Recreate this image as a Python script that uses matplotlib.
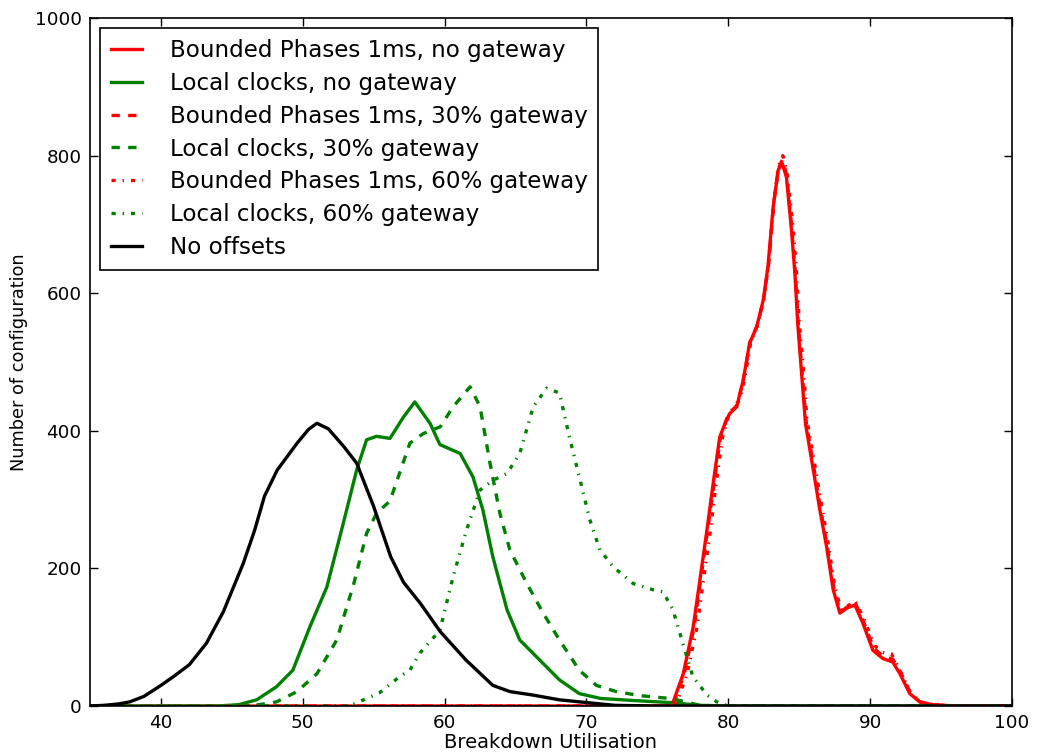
"""Breakdown utilisation distributions for the offset strategies."""
import matplotlib
matplotlib.use('Agg')
import matplotlib.pyplot as plt


# ---- data ----
# No offsets
x_none = [35, 36, 37, 37.8, 38.8, 40, 40.9, 42, 43.2, 44.4, 45.8, 46.6, 47.3,
          48.2, 49.6, 50.4, 51, 51.8, 52.9, 53.8, 55, 56.2, 57.1, 58.3, 59.7,
          61.5, 63.4, 64.6, 66.2, 68.1, 70, 72, 75, 100]
y_none = [0, 1, 3, 6, 14, 30, 43, 60, 91, 137, 207, 255, 305,
          343, 382, 402, 411, 403, 377, 353, 290, 217, 180, 149, 108,
          67, 30, 21, 16, 9, 5, 1, 0, 0]

# Local clocks, no gateway
x_lc0 = [35, 44, 45.5, 46.75, 48.15, 49.3, 50.5, 51.7, 52.85, 53.8, 54.5,
         55.2, 56.15, 57.1, 57.9, 58.97, 59.67, 61.1, 62.0, 62.7, 63.4, 64.4,
         65.3, 66.7, 68.1, 69.5, 71, 73.3, 75.9, 78, 80, 100]
y_lc0 = [0, 0, 2, 9, 28, 52, 115, 173, 265, 343, 387,
         392, 389, 420, 442, 411, 380, 367, 333, 285, 217, 140,
         96, 67, 38, 18, 11, 8, 5, 1, 0, 0]

# Local clocks, 30% gateway
x_lc30 = [35, 46.3, 48.15, 49.6, 51.0, 52.4, 53.6, 54.5, 55.2, 56.15, 56.85,
          57.55, 58.5, 59.7, 60.6, 61.8, 62.5, 63.2, 63.9, 64.6, 65.8, 66.95,
          68.1, 69.5, 70.7, 72.1, 73.8, 75.9, 77, 78, 80, 100]
y_lc30 = [0, 0, 6, 21, 47, 96, 178, 251, 280, 298, 340,
          382, 396, 406, 435, 464, 435, 353, 280, 227, 178, 135,
          96, 52, 30, 21, 15, 11, 6, 1, 0, 0]

# Local clocks, 60% gateway
x_lc60 = [35, 53.3, 55.4, 56.85, 57.55, 58.26, 59.67, 60.6, 61.55, 62.5, 63.4,
          64.4, 65.3, 66.25, 67.2, 68.1, 68.8, 69.5, 70.25, 70.95, 71.9, 73.3,
          74.7, 75.4, 76.1, 76.8, 77.5, 78.5, 79.2, 80, 100]
y_lc60 = [0, 0, 19, 43, 52, 77, 110, 188, 256, 314, 328,
          338, 367, 435, 462, 455, 391, 333, 270, 227, 202, 178,
          169, 166, 140, 91, 43, 16, 6, 0, 0]

# Bounded phases 1ms, no gateway
x_bp0 = [35, 75.5, 76.12, 76.83, 77.53, 78.0, 78.5, 78.94, 79.4, 79.88, 80.1,
         80.6, 81.06, 81.5, 82.0, 82.47, 82.8, 83.17, 83.52, 83.8, 84.1, 84.46,
         84.7, 84.9, 85.17, 85.45, 86.0, 86.46, 86.93, 87.4, 87.87, 88.34,
         88.93, 89.5, 90.2, 90.9, 91.6, 92.1, 92.8, 93.5, 94.4, 96, 100]
y_bp0 = [0, 0, 6, 47, 115, 183, 256, 324, 391, 416, 425,
         435, 474, 527, 551, 590, 639, 726, 779, 789, 769, 692,
         629, 556, 484, 410, 343, 285, 232, 169, 135, 142,
         147, 120, 81, 69, 64, 47, 18, 6, 2, 0, 0]

# Bounded phases 1ms, 30% gateway
x_bp30 = [35, 75.6, 76.2, 76.9, 77.6, 78.05, 78.55, 79.0, 79.45, 79.9, 80.15,
          80.65, 81.1, 81.55, 82.05, 82.5, 82.85, 83.2, 83.55, 83.82, 84.12,
          84.48, 84.72, 84.93, 85.2, 85.5, 86.05, 86.5, 86.97, 87.45, 87.9,
          88.4, 88.95, 89.55, 90.25, 90.95, 91.6, 92.15, 92.85, 93.5, 94.4,
          96, 100]
y_bp30 = [0, 0, 6, 47, 115, 183, 256, 324, 391, 418, 427,
          438, 478, 530, 553, 592, 642, 730, 782, 794, 772,
          695, 632, 558, 486, 412, 345, 287, 234, 171, 137,
          144, 150, 122, 84, 72, 68, 49, 19, 6, 2,
          0, 0]

# Bounded phases 1ms, 60% gateway
x_bp60 = [35, 76.0, 76.4, 77.1, 77.8, 78.25, 78.75, 79.15, 79.6, 80.0, 80.3,
          80.8, 81.2, 81.6, 82.1, 82.5, 82.85, 83.2, 83.55, 83.85, 84.15,
          84.55, 84.8, 85.0, 85.3, 85.55, 86.15, 86.6, 87.05, 87.5, 87.95,
          88.4, 88.95, 89.6, 90.3, 90.9, 91.5, 92.1, 92.8, 93.5, 94.4, 96, 100]
y_bp60 = [0, 0, 6, 47, 115, 183, 256, 324, 391, 420, 432,
          445, 480, 530, 556, 590, 645, 730, 785, 800, 775,
          700, 635, 560, 490, 415, 345, 290, 235, 175, 140,
          145, 153, 125, 88, 78, 76, 52, 20, 6, 2, 0, 0]

labels = ['Bounded Phases 1ms, no gateway',
          'Local clocks, no gateway',
          'Bounded Phases 1ms, 30% gateway',
          'Local clocks, 30% gateway',
          'Bounded Phases 1ms, 60% gateway',
          'Local clocks, 60% gateway',
          'No offsets']

x_ticks = [40, 50, 60, 70, 80, 90, 100]
y_ticks = [0, 200, 400, 600, 800, 1000]


def main():
    plt.rcParams['font.family'] = 'DejaVu Sans'
    plt.rcParams['lines.dashed_pattern'] = [6, 6]
    plt.rcParams['lines.dashdot_pattern'] = [3, 5, 1, 5]
    plt.rcParams['lines.scale_dashes'] = False

    fig = plt.figure(figsize=(10.37, 7.53), dpi=100)
    ax = fig.add_axes([0.0868, 0.0624, 0.889, 0.9136])

    lw = 2.4
    series = [
        (x_bp0, y_bp0, 'red', '-'),
        (x_lc0, y_lc0, 'green', '-'),
        (x_bp30, y_bp30, 'red', '--'),
        (x_lc30, y_lc30, 'green', '--'),
        (x_bp60, y_bp60, 'red', '-.'),
        (x_lc60, y_lc60, 'green', '-.'),
        (x_none, y_none, 'black', '-'),
    ]
    for (xs, ys, c, ls), lbl in zip(series, labels):
        ax.plot(xs, ys, color=c, ls=ls, lw=lw, label=lbl)

    ax.set_xlim(35, 100)
    ax.set_ylim(0, 1000)
    ax.set_xticks(x_ticks)
    ax.set_yticks(y_ticks)
    ax.tick_params(direction='in', top=True, right=True, length=6,
                   width=1, pad=6, labelsize=13.2)
    for sp in ax.spines.values():
        sp.set_linewidth(1.2)

    ax.set_xlabel('Breakdown Utilisation', fontsize=14, labelpad=0.5)
    ax.set_ylabel('Number of configuration', fontsize=12.8, labelpad=5)

    leg = ax.legend(loc='upper left', fontsize=16.6, handlelength=1.35,
                    handletextpad=1.2, labelspacing=0.43, borderpad=0.45,
                    borderaxespad=0.45, fancybox=False, framealpha=1)
    leg.get_frame().set_edgecolor('black')
    leg.get_frame().set_linewidth(1.2)

    fig.savefig('out.png', dpi=100, facecolor='white')
    plt.close(fig)


if __name__ == '__main__':
    main()
